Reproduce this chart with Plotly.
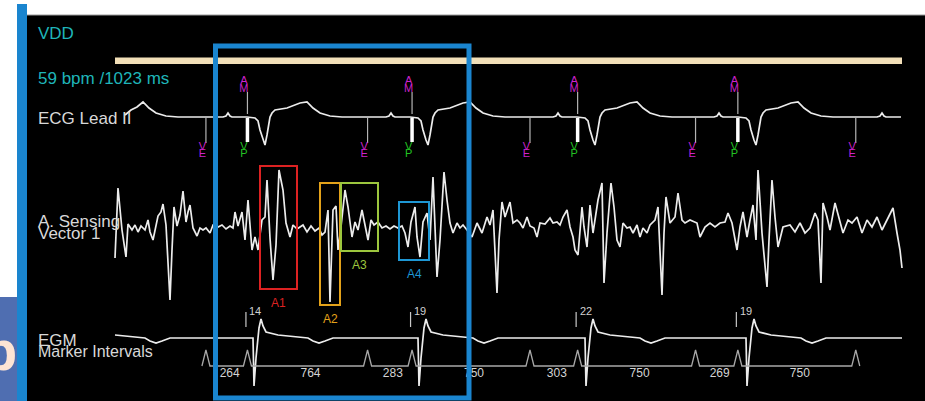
import plotly.graph_objects as go

W, H = 925, 401
SAMPLE_MS = 6.36  # display sample period, ms per sample

# ---------------- A. Sensing Vector 1 (accelerometer), sample index / amplitude (a.u.)
accel_idx = [88, 91, 95, 99, 101, 105, 108, 111, 114, 118, 121, 123, 126, 129, 131, 134, 136, 139, 141, 143,
             145, 147, 150, 153, 156, 159, 161, 163, 166, 170, 173, 176, 179, 183, 186, 191, 195, 199, 203, 206,
             208, 211, 215, 218, 221, 225, 228, 231, 235, 238, 240, 243, 246, 249, 252, 256, 259, 263, 266, 270,
             273, 276, 280, 284, 288, 292, 295, 298, 301, 303, 306, 309, 311, 314, 318, 321, 325, 328, 331, 335,
             338, 341, 344, 347, 351, 355, 359, 363, 367, 371, 375, 378, 381, 384, 388, 390, 393, 396, 400, 403,
             406, 408, 410, 413, 417, 420, 423, 426, 430, 433, 436, 440, 445, 450, 455, 460, 463, 466, 470, 472,
             475, 478, 483, 486, 490, 493, 496, 500, 503, 507, 510, 513, 518, 523, 526, 530, 533, 536, 540, 543,
             546, 548, 551, 555, 557, 560, 563, 566, 571, 575, 577, 580, 584, 587, 590, 593, 596, 600, 603, 606,
             610, 613, 616, 620, 623, 628, 631, 635, 637, 639, 643, 648, 651, 655, 658, 663, 670, 673, 678, 683,
             688, 693, 698, 701, 705, 710, 713, 716, 720, 723, 726, 729, 731, 735, 738, 740, 742, 745, 748, 751,
             756, 763, 768, 773, 778, 783, 788, 791, 794, 796, 800, 803, 808, 813, 816, 821, 825, 830, 835, 840,
             845, 850, 855, 860, 866, 870, 873, 875]
accel_val = [-30, 40, -2, -29, 4, -2, 3, -4, 2, -2, 8, -4, -12, 3, 12, 16, 24, 3, -32, -72,
             -22, 21, 2, 13, 37, 6, 16, 23, 0, -8, 0, -2, 0, -5, 3, 1, 3, -1, 2, 0,
             16, 2, 16, -12, 28, -22, -9, -22, 8, 11, 48, -10, -52, -17, 58, 38, 5, -9, 3, -1,
             1, 3, -4, 2, -3, 0, -7, -4, 18, -74, 18, 22, -22, 1, 38, 21, -9, 6, -2, 18,
             3, -12, 8, 3, 6, 0, 2, -1, 2, 0, 2, -5, -19, 6, 21, -9, -29, 6, 15, -12,
             51, 6, -49, -12, 56, 28, 5, -5, 5, 0, 3, -2, -9, 5, -5, 11, 3, 18, -65, -12,
             26, 11, 26, 5, 8, 5, 0, 11, 2, 0, -9, 5, 4, 10, 5, 6, 3, 11, 18, 1,
             -9, -22, -27, 21, 1, -19, 23, -5, 28, 45, -55, -5, 45, 21, -12, -19, 5, 0, 1, -5,
             3, -9, 0, -5, 3, 8, 21, -67, -5, 31, 5, 11, 35, 8, 5, 8, 5, -9, 1, 5,
             1, 5, 6, 15, 5, -22, 1, 16, -9, 8, 23, -12, 58, -5, -39, -59, -12, 48, 11, -19,
             1, 3, -4, 5, -5, 0, 15, 8, -55, 25, 11, -2, 25, 5, -5, 8, 5, 11, -5, 8,
             1, 11, -2, 8, 20, -5, -22, -40]

# ---------------- ECG Lead II: paced-beat template and beat sample indices
ecg_beats = [56, 220, 383, 550, 711, 874]
ecg_tpl_off = [-24, -21, -19, -17, -15, 0, 8, 11, 13, 16, 18, 20, 23, 25, 28, 40, 53, 60, 66, 73, 83, 95]
ecg_tpl_val = [0, 1, 4, 1, 0, 0, -1, -4, -13, -23, -28, -18, 0, 4, 7, 9, 14, 15, 9, 4, 1, 0]
ecg_lead_idx = [98, 104, 110]
ecg_lead_val = [2, 7, 10]
ECG_END = 875

# ---------------- EGM: paced-beat template and pace spike sample indices
egm_beats = [63, 226, 391, 558, 719]
egm_tpl_off = [-1, 0, 1, 3, 6, 8, 10, 13, 25, 45, 55, 60, 66, 72, 80]
egm_tpl_val = [0, 0, -48, -20, 10, 19, 12, 6, 3, 1, 0, -3, -5, -3, 0]
EGM_START, EGM_END = 88, 875

# ---------------- Marker channel (ms)
first_marker_ms = 1138
marker_names = ["VE", "AM", "VE", "AM", "VE", "AM", "VE", "AM", "VE"]
marker_intervals = [264, 764, 283, 750, 303, 750, 269, 750]
am_amplitudes = [14, 19, 22, 19]

# ---------------- Accelerometer window boxes: label, start/end sample, top/bottom amplitude, colour
windows = [
    ("A1", 233, 270, 62, -61, "#dd2222"),
    ("A2", 293, 313, 45, -77, "#e3a21a"),
    ("A3", 314, 351, 45, -23, "#9cc63e"),
    ("A4", 372, 402, 26, -32, "#1e97d4"),
]

FONT = "Arial, Liberation Sans, sans-serif"
TRACE = "#ececec"


def ms(i):
    return i * SAMPLE_MS


def from_template(beats, offs, vals, lo, hi):
    xs, ys = [], []
    for b in beats:
        for o, v in zip(offs, vals):
            i = b + o
            if lo <= i <= hi:
                xs.append(ms(i))
                ys.append(v)
    return xs, ys


fig = go.Figure()

# ECG Lead II
ex, ey = from_template(ecg_beats, ecg_tpl_off, ecg_tpl_val, ecg_lead_idx[-1] + 1, ECG_END)
fig.add_trace(go.Scatter(x=[ms(i) for i in ecg_lead_idx] + ex, y=ecg_lead_val + ey, mode="lines",
                         line=dict(color=TRACE, width=1.7), yaxis="y", hoverinfo="skip"))

# accelerometer
fig.add_trace(go.Scatter(x=[ms(i) for i in accel_idx], y=accel_val, mode="lines",
                         line=dict(color=TRACE, width=1.7), yaxis="y2", hoverinfo="skip"))

# EGM
gx, gy = from_template(egm_beats, egm_tpl_off, egm_tpl_val, EGM_START, EGM_END)
gx.append(ms(EGM_END))
gy.append(0)
fig.add_trace(go.Scatter(x=gx, y=gy, mode="lines", line=dict(color=TRACE, width=1.7),
                         yaxis="y3", hoverinfo="skip"))

# marker events
mt = [first_marker_ms]
for iv in marker_intervals:
    mt.append(mt[-1] + iv)
ve_t = [t for t, n in zip(mt, marker_names) if n == "VE"]
am_t = [t for t, n in zip(mt, marker_names) if n == "AM"]

GLYPH = 4 * SAMPLE_MS
mx, my = [], []
for t in mt:
    mx += [t - GLYPH, t, t + GLYPH]
    my += [0, 16, 0]
fig.add_trace(go.Scatter(x=mx, y=my, mode="lines", line=dict(color="#a8a8a8", width=1.3),
                         yaxis="y4", hoverinfo="skip"))

# interval values
fig.add_trace(go.Scatter(x=[(a + b) / 2 + 3 * SAMPLE_MS for a, b in zip(mt[:-1], mt[1:])],
                         y=[-8] * len(marker_intervals), mode="text",
                         text=[str(v) for v in marker_intervals],
                         textfont=dict(color="#d4d4d4", size=12, family=FONT),
                         yaxis="y4", hoverinfo="skip"))


def sticks(ts, y0, y1):
    xs, ys = [], []
    for t in ts:
        xs += [t, t, None]
        ys += [y0, y1, None]
    return xs, ys


LET = -3.5 * SAMPLE_MS
# AM: stick above ECG
sx, sy = sticks(am_t, 3, 25)
fig.add_trace(go.Scatter(x=sx, y=sy, mode="lines", line=dict(color="#b4b4b4", width=1.2),
                         yaxis="y", hoverinfo="skip"))
# VE: stick below ECG
sx, sy = sticks(ve_t, 0, -26)
fig.add_trace(go.Scatter(x=sx, y=sy, mode="lines", line=dict(color="#b4b4b4", width=1.2),
                         yaxis="y", hoverinfo="skip"))
# VP pacing spike
sx, sy = sticks(am_t, -1, -25)
fig.add_trace(go.Scatter(x=sx, y=sy, mode="lines", line=dict(color="#ffffff", width=3.5),
                         yaxis="y", hoverinfo="skip"))


def letters(ts, y, ch, color):
    fig.add_trace(go.Scatter(x=[t + LET for t in ts], y=[y] * len(ts), mode="text", text=[ch] * len(ts),
                             textfont=dict(color=color, size=11, family=FONT), yaxis="y", hoverinfo="skip"))


MAG, GRN = "#cc22cc", "#22c322"
letters(am_t, 36, "A", MAG)
letters(am_t, 28, "M", MAG)
letters(ve_t, -30, "V", MAG)
letters(ve_t, -37, "E", MAG)
letters(am_t, -30, "V", GRN)
letters(am_t, -37, "P", GRN)

# amplitude ticks on EGM
sx, sy = sticks([t - 1.5 * SAMPLE_MS for t in am_t], 11, 26)
fig.add_trace(go.Scatter(x=sx, y=sy, mode="lines", line=dict(color="#c8c8c8", width=1.2),
                         yaxis="y3", hoverinfo="skip"))

annotations = []
for t, a in zip(am_t, am_amplitudes):
    annotations.append(dict(x=t, y=27, xref="x", yref="y3", text=str(a), showarrow=False,
                            xanchor="left", yanchor="middle",
                            font=dict(color="#d0d0d0", size=11, family=FONT)))


def px(x):
    return x / W


def py(y):
    return 1 - y / H


shapes = [
    # black display panel
    dict(type="rect", xref="paper", yref="paper", x0=px(27), x1=1, y0=0, y1=py(15),
         fillcolor="#000000", line=dict(width=0), layer="below"),
    dict(type="line", xref="paper", yref="paper", x0=px(27), x1=1, y0=py(15), y1=py(15),
         line=dict(color="#9a9a9a", width=1), layer="below"),
    # left blue bar and corner tab
    dict(type="rect", xref="paper", yref="paper", x0=px(17), x1=px(27), y0=0, y1=py(4),
         fillcolor="#1a85cf", line=dict(width=0), layer="below"),
    dict(type="rect", xref="paper", yref="paper", x0=0, x1=px(17), y0=0, y1=py(297),
         fillcolor="#4f6eb1", line=dict(width=0), layer="below"),
    # mode bar
    dict(type="rect", xref="paper", yref="paper", x0=px(115), x1=px(902), y0=py(64), y1=py(57.5),
         fillcolor="#f2dfb8", line=dict(width=0), layer="below"),
]
for name, i0, i1, top, bot, col in windows:
    shapes.append(dict(type="rect", xref="x", yref="y2", x0=ms(i0), x1=ms(i1), y0=bot, y1=top,
                       line=dict(color=col, width=2), layer="above"))
    annotations.append(dict(x=ms((i0 + i1) / 2), y=bot - 5, xref="x", yref="y2", text=name,
                            showarrow=False, xanchor="center", yanchor="top",
                            font=dict(color=col, size=12, family=FONT)))
# highlighted cycle
shapes.append(dict(type="rect", xref="paper", yref="paper", x0=px(215.5), x1=px(469), y0=py(398), y1=py(46),
                   line=dict(color="#1a85cf", width=5), layer="above"))

labels = [
    ("VDD", 36, 33.5, "#1fb5b9", 17),
    ("59 bpm /1023 ms", 36, 78.5, "#1fb5b9", 17),
    ("ECG Lead II", 36, 118, "#d8d8d8", 17),
    ("A. Sensing", 36, 221, "#d8d8d8", 17),
    ("Vector 1", 36, 233, "#d8d8d8", 17),
    ("EGM", 36, 340, "#d8d8d8", 17),
    ("Marker Intervals", 36, 351, "#d8d8d8", 16),
]
for txt, x, y, col, size in labels:
    annotations.append(dict(x=px(x), y=py(y), xref="paper", yref="paper", text=txt, showarrow=False,
                            xanchor="left", yanchor="middle", font=dict(color=col, size=size, family=FONT)))
annotations.append(dict(x=px(19), y=py(350), xref="paper", yref="paper", text="<b>b</b>", showarrow=False,
                        xanchor="right", yanchor="middle", font=dict(color="#fde4d4", size=56, family=FONT)))

ax = dict(visible=False, domain=[0, 1], fixedrange=True)
fig.update_layout(
    width=W, height=H, margin=dict(l=0, r=0, t=0, b=0, pad=0),
    paper_bgcolor="#ffffff", plot_bgcolor="rgba(0,0,0,0)", showlegend=False,
    xaxis=dict(visible=False, range=[ms(-27), ms(898)], domain=[0, 1], fixedrange=True),
    yaxis=dict(ax, range=[-284, 117]),
    yaxis2=dict(ax, range=[-173, 228], overlaying="y"),
    yaxis3=dict(ax, range=[-63, 338], overlaying="y"),
    yaxis4=dict(ax, range=[-35, 366], overlaying="y"),
    shapes=shapes, annotations=annotations,
)

fig.write_html("out.html")
